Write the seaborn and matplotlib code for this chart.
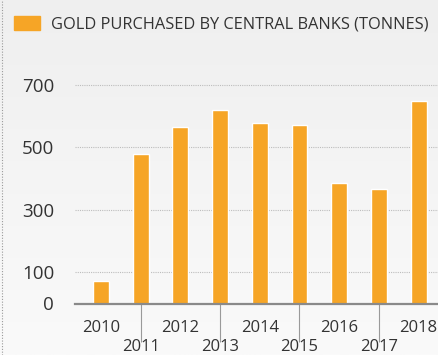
import matplotlib
matplotlib.use("Agg")
import matplotlib.pyplot as plt
import seaborn as sns
import numpy as np
import pandas as pd
from matplotlib.lines import Line2D
from matplotlib.colors import LinearSegmentedColormap

years = ["2010", "2011", "2012", "2013", "2014", "2015", "2016", "2017", "2018"]
tonnes = [73, 478, 563, 619, 577, 571, 384, 366, 646]
yticks = [0, 100, 300, 500, 700]
legend_label = "GOLD PURCHASED BY CENTRAL BANKS (TONNES)"

BAR = "#F6A526"
TEXT = "#333333"

sns.set_theme(style="white")
plt.rcParams["font.family"] = ["Open Sans", "DejaVu Sans"]

df = pd.DataFrame({"year": years, "tonnes": tonnes})

fig = plt.figure(figsize=(4.38, 3.55), dpi=100)

# background gradient
bg = fig.add_axes([0, 0, 1, 1], zorder=-10)
grad = np.linspace(0, 1, 256).reshape(-1, 1)
cmap = LinearSegmentedColormap.from_list("bg", ["#efefef", "#fafafa"])
bg.imshow(grad, aspect="auto", cmap=cmap, extent=[0, 1, 0, 1], origin="upper")
bg.set_axis_off()
# dotted left border
bg.add_line(Line2D([0.005, 0.005], [0, 1], color="#9a9a9a", lw=0.8,
                   linestyle=(0, (1, 1.5)), transform=bg.transAxes))

ax = fig.add_axes([75 / 438, 1 - 303.5 / 355, 1 - 75 / 438 + 0.001, 244 / 355])
ax.patch.set_alpha(0)

sns.barplot(data=df, x="year", y="tonnes", order=years, color=BAR,
            width=0.4, saturation=1, ax=ax, zorder=3)

ax.set_ylim(0, 780)
ax.set_xlim(-0.655, 8.5)
ax.set_yticks(yticks)
ax.set_yticklabels([str(v) for v in yticks])
ax.tick_params(axis="y", length=0, pad=15, labelsize=13.5, labelcolor=TEXT)

for v in yticks[1:]:
    ax.axhline(v, color="#bdbdbd", lw=0.8, linestyle=(0, (1, 1)), zorder=1)

ax.set_xlabel("")
ax.set_ylabel("")
for s in ["top", "right", "left"]:
    ax.spines[s].set_visible(False)
ax.spines["bottom"].set_color("#8a8a8a")
ax.spines["bottom"].set_linewidth(1.6)
ax.spines["bottom"].set_zorder(5)

even = [i for i in range(len(years)) if i % 2 == 0]
odd = [i for i in range(len(years)) if i % 2 == 1]
ax.set_xticks(even)
ax.set_xticklabels([years[i] for i in even])
ax.set_xticks(odd, minor=True)
ax.set_xticklabels([years[i] for i in odd], minor=True)
ax.tick_params(axis="x", which="major", length=0, pad=12, labelsize=12,
               labelcolor=TEXT)
ax.tick_params(axis="x", which="minor", bottom=True, length=27, width=0.8,
               color="#9a9a9a", pad=-1.5, labelsize=12, labelcolor=TEXT)

# legend
handle = plt.Rectangle((0, 0), 1, 1, color=BAR)
fig.legend([handle], [legend_label], loc="upper left",
           bbox_to_anchor=(7 / 438, 1 - 9 / 355), frameon=False,
           handlelength=1.6, handleheight=1.0, handletextpad=0.7,
           prop={"size": 11.8}, labelcolor=TEXT, borderaxespad=0)

fig.savefig("out.png", dpi=100)
